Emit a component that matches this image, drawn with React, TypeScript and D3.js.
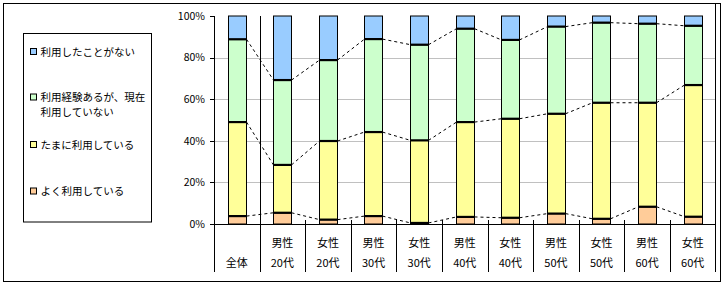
import React from "react";
import * as d3 from "d3";

const groups = ["", "男性", "女性", "男性", "女性", "男性", "女性", "男性", "女性", "男性", "女性"];
const ages = ["全体", "20代", "20代", "30代", "30代", "40代", "40代", "50代", "50代", "60代", "60代"];
const often = [3.8, 5.4, 2.1, 3.8, 0.5, 3.4, 3.0, 5.0, 2.5, 8.3, 3.5];
const sometimes = [45.2, 23.0, 37.8, 40.4, 39.7, 45.6, 47.6, 48.0, 55.8, 50.0, 63.3];
const usedBefore = [39.8, 40.8, 38.9, 44.7, 46.0, 44.9, 37.9, 41.9, 38.5, 38.0, 28.5];
const never = [11.2, 30.8, 21.2, 11.1, 13.8, 6.1, 11.5, 5.1, 3.2, 3.7, 4.7];
const seriesNames = ["よく利用している", "たまに利用している", "利用経験あるが、現在利用していない", "利用したことがない"];
const seriesColors = ["#FFCC99", "#FFFF99", "#CCFFCC", "#99CCFF"];
const yTicks = [0, 20, 40, 60, 80, 100];

const FONT = "'Noto Sans CJK JP', 'Noto Sans', sans-serif";

export default function App() {
  const keys = ages.map((_, i) => String(i));
  const x = d3.scaleBand<string>().domain(keys).range([214, 715.5]).paddingInner(0.6).paddingOuter(0.3);
  const y = d3.scaleLinear().domain([0, 100]).range([224, 16]);
  const bw = x.bandwidth();
  const data = ages.map((_, i) => ({ i: String(i), s0: often[i], s1: sometimes[i], s2: usedBefore[i], s3: never[i] }));
  const stack = d3.stack<any>().keys(["s0", "s1", "s2", "s3"]);
  const layers = stack(data);
  const boundary = (i: number) => 214 + (715.5 - 214) * (i / ages.length);

  const legendItems = [
    { idx: 3, lines: ["利用したことがない"], y: 52 },
    { idx: 2, lines: ["利用経験あるが、現在", "利用していない"], y: 97.5 },
    { idx: 1, lines: ["たまに利用している"], y: 145 },
    { idx: 0, lines: ["よく利用している"], y: 191.5 },
  ];

  return (
    <svg width={726} height={286} style={{ position: "absolute", left: 0, top: 0 }} fontFamily={FONT}>
      <rect x={0} y={0} width={726} height={286} fill="white" />
      <rect x={3.5} y={3.5} width={717} height={278} fill="white" stroke="black" />
      {/* gridlines */}
      {yTicks.filter((t) => t > 0 && t < 100).map((t) => (
        <line key={t} x1={214} x2={715.5} y1={Math.round(y(t)) + 0.5} y2={Math.round(y(t)) + 0.5} stroke="#C0C0C0" />
      ))}
      {/* bars */}
      {layers.map((layer, li) => (
        <g key={li}>
          {layer.map((d, ci) => {
            const x0 = Math.round(x(String(ci))!) + 0.5;
            return (
              <rect key={ci} x={x0} y={y(d[1])} width={Math.round(bw)} height={Math.max(0, y(d[0]) - y(d[1]))}
                fill={seriesColors[li]} stroke="black" strokeWidth={1} />
            );
          })}
        </g>
      ))}
      {/* thick segment boundaries */}
      {layers.slice(0, 3).map((layer, li) => (
        <g key={"b" + li}>
          {layer.map((d, ci) => {
            const x0 = Math.round(x(String(ci))!) + 0.5;
            return <line key={ci} x1={x0} x2={x0 + Math.round(bw)} y1={y(d[1])} y2={y(d[1])} stroke="black" strokeWidth={2.2} />;
          })}
        </g>
      ))}
      {/* series lines */}
      {layers.slice(0, 3).map((layer, li) => (
        <g key={"s" + li}>
          {layer.slice(0, -1).map((d, ci) => {
            const xa = Math.round(x(String(ci))!) + 0.5 + Math.round(bw);
            const xb = Math.round(x(String(ci + 1))!) + 0.5;
            const nd = layer[ci + 1];
            return <line key={ci} x1={xa} x2={xb} y1={y(d[1])} y2={y(nd[1])} stroke="black" strokeWidth={1} strokeDasharray="3,3" />;
          })}
        </g>
      ))}
      {/* axes */}
      <line x1={214} x2={715.5} y1={224.5} y2={224.5} stroke="black" />
      <line x1={214.5} x2={214.5} y1={16} y2={272} stroke="black" />
      <line x1={Math.round(boundary(1)) + 0.5} x2={Math.round(boundary(1)) + 0.5} y1={16} y2={272} stroke="black" />
      <line x1={715.5} x2={715.5} y1={3} y2={272} stroke="black" />
      {d3.range(2, ages.length).map((i) => (
        <line key={i} x1={Math.round(boundary(i)) + 0.5} x2={Math.round(boundary(i)) + 0.5} y1={220} y2={272} stroke="black" />
      ))}
      {yTicks.map((t) => (
        <g key={t}>
          <line x1={210} x2={214} y1={Math.round(y(t)) + 0.5} y2={Math.round(y(t)) + 0.5} stroke="black" />
          <text x={205} y={y(t)} dy="0.36em" textAnchor="end" fontSize={10.5}>{t}%</text>
        </g>
      ))}
      {keys.map((k, i) => (
        <g key={k}>
          <text x={x(k)! + bw / 2} y={243} dy="0.36em" textAnchor="middle" fontSize={11}>{groups[i]}</text>
          <text x={x(k)! + bw / 2} y={263} dy="0.36em" textAnchor="middle" fontSize={11}>{ages[i]}</text>
        </g>
      ))}
      {/* legend */}
      <rect x={23.5} y={33.5} width={128} height={188.5} fill="white" stroke="black" />
      {legendItems.map((it) => (
        <g key={it.idx}>
          <rect x={30.5} y={it.y - 3.5} width={6} height={6} fill={seriesColors[it.idx]} stroke="black" />
          {it.lines.map((ln, j) => (
            <text key={j} x={40.5} y={it.y + j * 15} dy="0.36em" fontSize={10.5}>{ln}</text>
          ))}
        </g>
      ))}
    </svg>
  );
}
